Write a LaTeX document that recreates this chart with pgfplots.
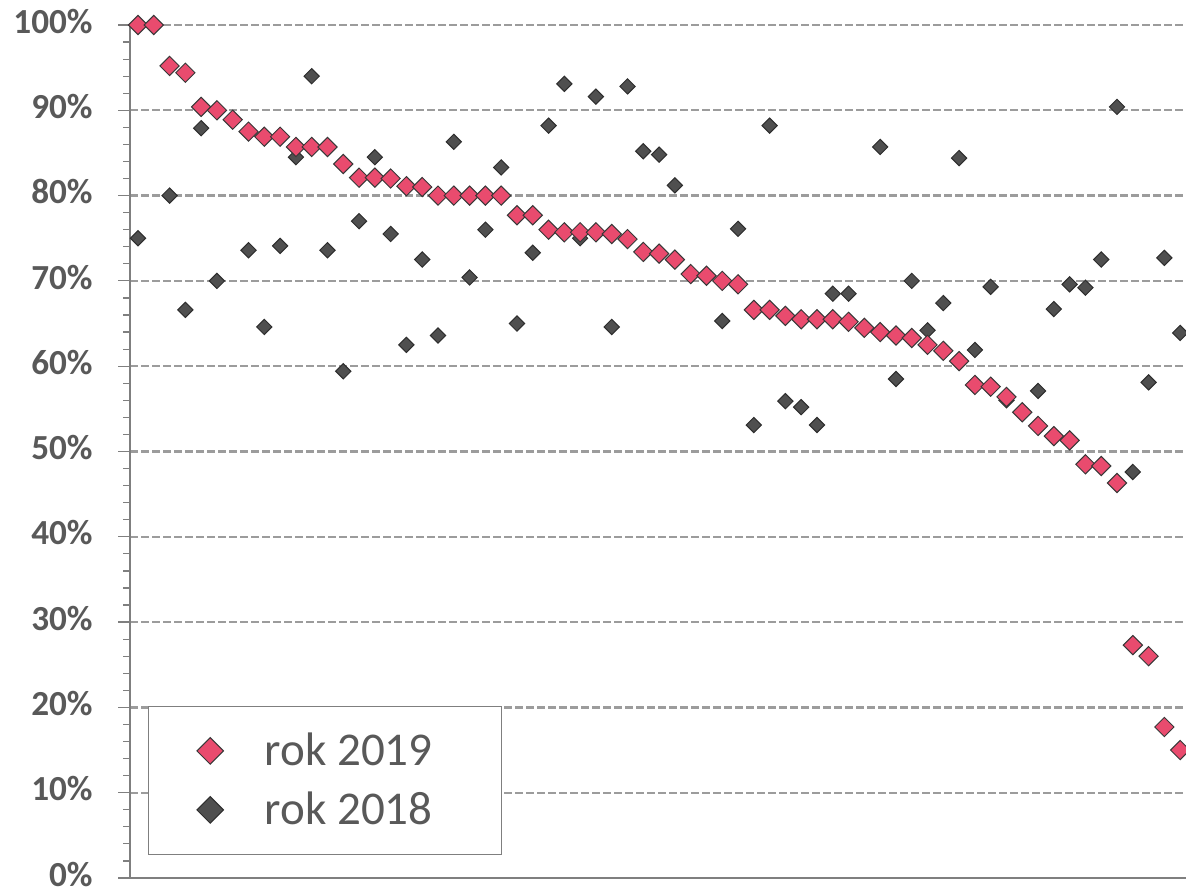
\documentclass[border=0pt]{standalone}
\usepackage{pgfplots}
\pgfplotsset{compat=1.18}
\usepackage{fontspec}
\setmainfont{Carlito}
\definecolor{redm}{HTML}{E94B6E}
\definecolor{darkm}{HTML}{4F4F4F}
\definecolor{txt}{HTML}{595959}
\definecolor{gridc}{HTML}{9C9C9C}
\definecolor{axc}{HTML}{7F7F7F}
\begin{document}
\begin{tikzpicture}
\begin{axis}[
  scale only axis, width=528pt, height=426.5pt,
  xmin=0.494, xmax=67.37, ymin=0, ymax=100,
  axis x line*=bottom, axis y line*=left,
  axis line style={draw=axc, line width=0.6pt},
  xtick=\empty,
  ytick={0,10,...,100},
  minor y tick num=4,
  tick align=outside,
  major tick length=6pt, minor tick length=3.5pt,
  every tick/.style={draw=axc, line width=0.6pt},
  ymajorgrids,
  major grid style={draw=gridc, dash pattern=on 3.75pt off 1.75pt, line width=1.2pt},
  /pgf/number format/assume math mode=true,
  yticklabel={\pgfmathprintnumber{\tick}\%},
  yticklabel style={font=\fontsize{17.6}{20}\selectfont\bfseries, text=txt, anchor=east, inner sep=0pt, xshift=-12.5pt, yshift=1.9pt},
  reverse legend,
  legend style={at={(axis description cs:0.01705,0.02696)}, anchor=south west,
    draw=axc, line width=0.6pt, fill=white,
    inner xsep=0pt, inner ysep=7.5pt,
    nodes={inner sep=0pt, text=txt, font=\fontsize{23.5}{25}\selectfont, text height=22pt, text depth=7.5pt},
    cells={anchor=west}, column sep=0pt, row sep=0pt},
  legend image code/.code={%
    \path (0pt,-1pt) (57.5pt,1pt);
    \draw[mark repeat=2, mark phase=2, #1, only marks, mark size=4.7pt] plot coordinates {(0pt,0pt) (30.5pt,0pt) (50pt,0pt)};},
]
\coordinate (SW) at (rel axis cs:0,0);
\coordinate (NE) at (rel axis cs:1,1);
\addplot[only marks, mark=square*, mark size=2.7pt,
  mark options={rotate=45, fill=darkm, draw=black!82, line width=0.5pt}]
  coordinates {
  (1,75.0) (2,100) (3,80.0) (4,66.6) (5,87.9) (6,70.0) (7,88.9) (8,73.6) (9,64.6) (10,74.1)
  (11,84.5) (12,94.0) (13,73.6) (14,59.4) (15,77.0) (16,84.5) (17,75.5) (18,62.5) (19,72.5) (20,63.6)
  (21,86.3) (22,70.4) (23,76.0) (24,83.3) (25,65.0) (26,73.3) (27,88.2) (28,93.1) (29,75.0) (30,91.6)
  (31,64.6) (32,92.8) (33,85.2) (34,84.8) (35,81.2) (36,70.8) (37,70.6) (38,65.3) (39,76.1) (40,53.1)
  (41,88.2) (42,55.9) (43,55.2) (44,53.1) (45,68.5) (46,68.5) (47,64.5) (48,85.7) (49,58.5) (50,70.0)
  (51,64.2) (52,67.4) (53,84.4) (54,61.9) (55,69.3) (56,56.0) (57,54.6) (58,57.1) (59,66.7) (60,69.6)
  (61,69.2) (62,72.5) (63,90.4) (64,47.6) (65,58.1) (66,72.7) (67,63.9)
  };
\addlegendentry{rok 2018\rule{34.5pt}{0pt}}
\addplot[only marks, mark=square*, mark size=3.4pt,
  mark options={rotate=45, fill=redm, draw=black!78, line width=0.5pt}]
  coordinates {
  (1,100) (2,100) (3,95.2) (4,94.4) (5,90.4) (6,90.0) (7,88.9) (8,87.5) (9,86.9) (10,86.9)
  (11,85.7) (12,85.7) (13,85.7) (14,83.7) (15,82.1) (16,82.1) (17,82.0) (18,81.1) (19,81.0) (20,80.0)
  (21,80.0) (22,80.0) (23,80.0) (24,80.0) (25,77.7) (26,77.7) (27,76.0) (28,75.7) (29,75.7) (30,75.7)
  (31,75.5) (32,74.9) (33,73.4) (34,73.2) (35,72.5) (36,70.8) (37,70.6) (38,70.0) (39,69.6) (40,66.6)
  (41,66.6) (42,65.9) (43,65.5) (44,65.5) (45,65.5) (46,65.2) (47,64.5) (48,64.0) (49,63.6) (50,63.3)
  (51,62.5) (52,61.8) (53,60.6) (54,57.8) (55,57.6) (56,56.4) (57,54.6) (58,53.0) (59,51.8) (60,51.3)
  (61,48.5) (62,48.3) (63,46.3) (64,27.3) (65,26.0) (66,17.7) (67,15.0)
  };
\addlegendentry{rok 2019\rule{34.5pt}{0pt}}
\end{axis}
\pgfresetboundingbox
\path[use as bounding box] ([xshift=-65pt,yshift=-5pt]SW) rectangle ([yshift=12.5pt]NE);
\end{tikzpicture}
\end{document}
